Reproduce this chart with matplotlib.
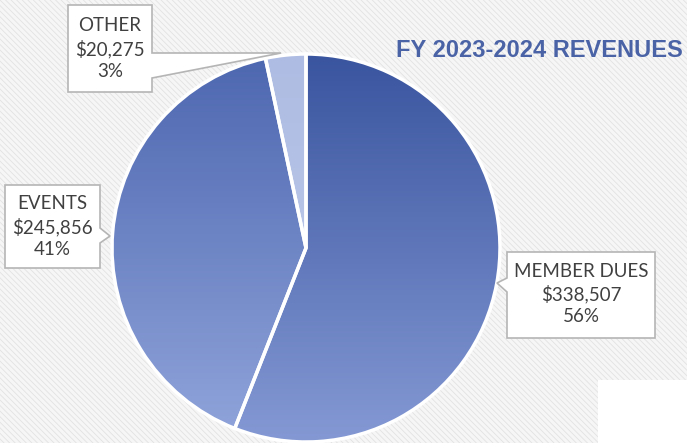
import numpy as np
import matplotlib
matplotlib.use("Agg")
import matplotlib.pyplot as plt
from matplotlib.colors import LinearSegmentedColormap
from matplotlib.patches import Rectangle, Polygon

# ---------------- data ----------------
categories = ["MEMBER DUES", "EVENTS", "OTHER"]
amounts = [338507, 245856, 20275]
percents = ["56%", "41%", "3%"]
title = "FY 2023-2024 REVENUES"

# gradient colours per slice (bottom -> top)
grad_colors = [("#8499d4", "#3a559f"), ("#91a5db", "#4d67b0"), ("#c2cdec", "#aebce3")]

W, H = 687, 443
plt.rcParams["hatch.linewidth"] = 0.6
plt.rcParams["font.family"] = ["Lato", "DejaVu Sans"]

fig = plt.figure(figsize=(W / 100, H / 100), dpi=100)
ax = fig.add_axes([0, 0, 1, 1])


def Y(py):
    return H - py


# scanned paper texture
ax.add_patch(Rectangle((0, 0), W, H, facecolor="#f6f6f6", edgecolor="#e2e2e2",
                       hatch="\\\\\\\\\\\\", lw=0, zorder=0))
ax.add_patch(Rectangle((598, 0), W - 598, Y(380), facecolor="white", edgecolor="none", zorder=1))

# pie
cx, cy, r = 306, Y(248), 194
wedges, _ = ax.pie(amounts, startangle=90, counterclock=False, center=(cx, cy), radius=r,
                   colors=["none"] * 3, wedgeprops=dict(edgecolor="white", linewidth=2.5),
                   frame=True)
ax.set_xlim(0, W)
ax.set_ylim(0, H)
ax.set_aspect("equal")
ax.axis("off")

g = np.linspace(0, 1, 256).reshape(-1, 1)
for w, (c0, c1) in zip(wedges, grad_colors):
    cmap = LinearSegmentedColormap.from_list("g", [c0, c1])
    im = ax.imshow(g, cmap=cmap, extent=[cx - r, cx + r, cy - r, cy + r], origin="lower",
                   aspect="auto", zorder=2)
    im.set_clip_path(w)
    w.set_zorder(3)


def callout(x0, y0, x1, y1, pts):
    ax.add_patch(Polygon([(x, Y(y)) for x, y in pts], closed=True, facecolor="white",
                         edgecolor="#b5b5b5", lw=1.2, zorder=4))
    return (x0 + x1) / 2, Y((y0 + y1) / 2)


def label(i):
    return f"{categories[i]}\n${amounts[i]:,}\n{percents[i]}"


txt = dict(ha="center", va="center", fontsize=13.5, color="#404040", linespacing=1.35, zorder=5)

# MEMBER DUES
tx, ty = callout(507, 252, 655, 338,
                 [(507, 252), (655, 252), (655, 338), (507, 338), (507, 292), (497, 283), (507, 278)])
ax.text(tx, ty + 1, label(0), **txt)

# EVENTS
tx, ty = callout(5, 185, 100, 268,
                 [(5, 185), (100, 185), (100, 228), (110, 236), (100, 243), (100, 268), (5, 268)])
ax.text(tx, ty, label(1), **txt)

# OTHER
tx, ty = callout(68, 5, 152, 92,
                 [(68, 5), (152, 5), (152, 53), (281, 53), (152, 78), (152, 92), (68, 92)])
ax.text(tx, ty, label(2), **txt)

ax.text(683, Y(50), title, ha="right", va="center", fontsize=17, fontweight="bold",
        color="#4a63a6", family="Liberation Sans", zorder=5)

fig.savefig("out.png", dpi=100)
